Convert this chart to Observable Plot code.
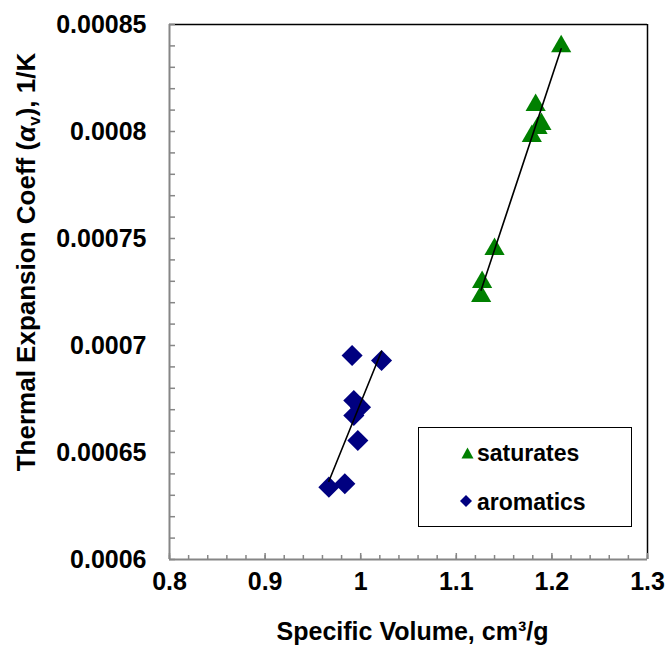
<!DOCTYPE html>
<html><head><meta charset="utf-8">
<script src="https://cdn.jsdelivr.net/npm/d3@7"></script>
<script src="https://cdn.jsdelivr.net/npm/@observablehq/plot@0.6"></script>
<style>
body{margin:0;background:#fff;}
#wrap{position:relative;width:668px;height:647px;font-family:"Liberation Sans",Arial,sans-serif;}
#legend{position:absolute;left:418px;top:427px;width:214px;height:100px;border:1.5px solid #000;background:#fff;box-sizing:border-box;}
.mk{position:absolute;}
.lt{position:absolute;font-size:23px;font-weight:bold;line-height:26px;color:#000;white-space:nowrap;}
</style></head><body><div id="wrap"></div>
<script>
// Data
const satX = [1.2097, 1.183, 1.189, 1.185, 1.179, 1.140, 1.127, 1.126];
const satY = [0.0008398, 0.0008123, 0.0008034, 0.0008016, 0.0007978, 0.000745, 0.0007296, 0.000723];
const aroX = [0.991, 1.0218, 0.9928, 0.9998, 0.9928, 0.997, 0.9667, 0.9834];
const aroY = [0.0006953, 0.000693, 0.0006743, 0.0006712, 0.0006673, 0.0006556, 0.0006338, 0.0006354];
const xTicks = [0.8, 0.9, 1, 1.1, 1.2, 1.3];
const yTicks = [0.0006, 0.00065, 0.0007, 0.00075, 0.0008, 0.00085];
const xMinor = d3.range(0, 26).map(i => +(0.8 + i * 0.02).toFixed(4));
const yMinor = d3.range(0, 26).map(i => +(0.0006 + i * 0.00001).toFixed(7));
const seriesNames = ["saturates", "aromatics"];
const seriesColors = ["#008000", "#000080"];
const xTitle = "Specific Volume, cm³/g";
const yTitle = "Thermal Expansion Coeff (αv), 1/K";

const sat = satX.map((x, i) => ({x, y: satY[i]}));
const aro = aroX.map((x, i) => ({x, y: aroY[i]}));
const gray = "#868686";

const chart = Plot.plot({
  width: 668, height: 647,
  marginLeft: 169, marginRight: 21, marginTop: 24, marginBottom: 88,
  x: {domain: [0.8, 1.3]},
  y: {domain: [0.0006, 0.00085]},
  style: {fontFamily: '"Liberation Sans", Arial, sans-serif', fontSize: "25px", fontWeight: "bold", color: "#000", background: "#fff"},
  marks: [
    Plot.ruleY([0.00085], {stroke: "#000", strokeWidth: 1.5}),
    Plot.ruleX([1.3], {stroke: "#000", strokeWidth: 1.5}),
    Plot.axisY(yMinor, {tickSize: -6, tickFormat: () => "", stroke: gray, strokeWidth: 1.5, label: null}),
    Plot.axisY(yTicks, {tickSize: 0, tickPadding: 23, tickFormat: d => String(d), label: null, fontSize: 25, fontWeight: "bold", fill: "#000"}),
    Plot.axisX(xMinor, {tickSize: -4, tickFormat: () => "", stroke: gray, strokeWidth: 1.5, label: null}),
    Plot.axisX(xTicks, {tickSize: -6, tickFormat: () => "", stroke: gray, strokeWidth: 1.5, label: null}),
    Plot.axisX(xTicks, {tickSize: 0, tickPadding: 13, tickFormat: d => String(d), label: null, fontSize: 25, fontWeight: "bold", fill: "#000"}),
    Plot.ruleX([0.8], {stroke: gray, strokeWidth: 2}),
    Plot.ruleY([0.0006], {stroke: gray, strokeWidth: 2}),
    Plot.dot(sat, {x: "x", y: "y", symbol: "triangle", r: 7.5, fill: seriesColors[0], stroke: "none"}),
    Plot.dot(aro, {x: "x", y: "y", symbol: "diamond2", r: 9.5, fill: seriesColors[1], stroke: "none"}),
    Plot.linearRegressionY(sat, {x: "x", y: "y", ci: 0, stroke: "#000", strokeWidth: 1.6}),
    Plot.linearRegressionY(aro, {x: "x", y: "y", ci: 0, stroke: "#000", strokeWidth: 1.6}),
    Plot.text([xTitle], {text: d => d, frameAnchor: "bottom", textAnchor: "middle", dy: 72, dx: 4, lineAnchor: "middle", fontSize: 25, fontWeight: "bold", fill: "#000"}),
    Plot.text([yTitle], {text: d => d, frameAnchor: "left", textAnchor: "middle", rotate: -90, dx: -143, dy: -30, lineAnchor: "middle", fontSize: 26, fontWeight: "bold", fill: "#000"})
  ]
});

// Rich text for y title: italic alpha with subscript v
const NS = "http://www.w3.org/2000/svg";
d3.select(chart).selectAll("text").each(function() {
  if (this.textContent === yTitle) {
    const t = this;
    while (t.firstChild) t.removeChild(t.firstChild);
    const add = (txt, attrs) => {
      const s = document.createElementNS(NS, "tspan");
      s.textContent = txt;
      for (const k in attrs) s.setAttribute(k, attrs[k]);
      t.appendChild(s);
    };
    add("Thermal Expansion Coeff (", {});
    add("α", {"font-style": "italic"});
    add("v", {"font-size": "17px", "dy": "5"});
    add("), 1/K", {"dy": "-5"});
  }
});

const wrap = document.getElementById("wrap");
wrap.appendChild(chart);

// Legend
const legend = document.createElement("div");
legend.id = "legend";
legend.innerHTML =
  `<svg class="mk" style="left:42px;top:19px" width="13" height="12"><polygon points="6.5,0.5 12.5,11.5 0.5,11.5" fill="${seriesColors[0]}"/></svg>` +
  `<div class="lt" style="left:58px;top:12px">${seriesNames[0]}</div>` +
  `<svg class="mk" style="left:41px;top:67px" width="12" height="12"><polygon points="6,0 12,6 6,12 0,6" fill="${seriesColors[1]}"/></svg>` +
  `<div class="lt" style="left:58px;top:61px">${seriesNames[1]}</div>`;
wrap.appendChild(legend);
</script>
</body></html>
